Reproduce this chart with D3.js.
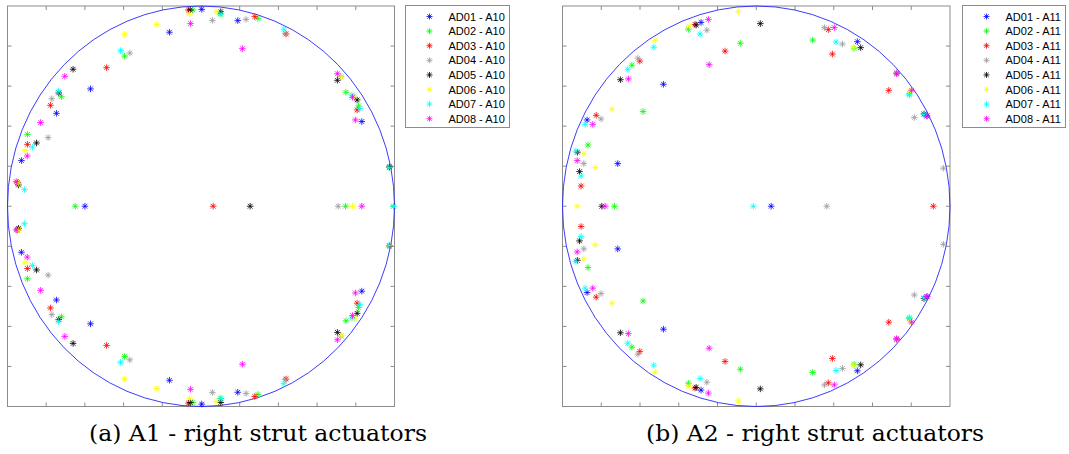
<!DOCTYPE html>
<html>
<head>
<meta charset="utf-8">
<script src="https://cdn.jsdelivr.net/npm/d3@7"></script>
<style>
  body { margin: 0; background: #fff; }
  svg { display: block; }
</style>
</head>
<body>
<div id="chart"></div>
<script>
// series names + colours (same for both panels)
const seriesNames = ['AD01', 'AD02', 'AD03', 'AD04', 'AD05', 'AD06', 'AD07', 'AD08'];
const seriesColors = ['#0000ff', '#00ff00', '#ff0000', '#9a9a9a', '#000000', '#ffff00', '#00ffff', '#ff00ff'];
const tickValues = [-1, -0.8, -0.6, -0.4, -0.2, 0, 0.2, 0.4, 0.6, 0.8, 1];
const captions = ['(a) A1 - right strut actuators', '(b) A2 - right strut actuators'];
const legendSuffix = ['A10', 'A11'];

// panel (a) points, [x, y]
const a1AD01 = [[0.004,0.983],[0.190,0.927],[-0.163,0.869],[-0.571,0.586],[-0.747,0.464],[-0.928,0.228],[0.831,0.423],[-0.600,0],
  [0.004,-0.988],[0.190,-0.929],[-0.163,-0.869],[-0.571,-0.587],[-0.747,-0.468],[-0.928,-0.230],[0.831,-0.424]];
const a1AD02 = [[-0.042,0.980],[0.099,0.960],[0.294,0.938],[-0.395,0.750],[-0.721,0.547],[-0.897,0.359],[0.749,0.569],[0.814,0.501],[0.974,0.196],[-0.650,0],[0.747,0],[0.995,0],
  [-0.042,-0.980],[0.099,-0.960],[0.294,-0.940],[-0.395,-0.750],[-0.721,-0.552],[-0.897,-0.362],[0.749,-0.572],[0.814,-0.505],[0.974,-0.198]];
const a1AD03 = [[-0.065,0.980],[0.278,0.947],[0.440,0.860],[-0.488,0.692],[-0.778,0.504],[-0.897,0.309],[-0.948,0.118],[0.807,0.481],[0.063,0],
  [-0.065,-0.983],[0.278,-0.950],[0.440,-0.863],[-0.488,-0.695],[-0.778,-0.508],[-0.897,-0.311],[-0.948,-0.118],[0.807,-0.484],[0.974,-0.198]];
const a1AD04 = [[0.059,0.928],[0.233,0.933],[0.435,0.864],[-0.368,0.765],[-0.771,0.537],[-0.790,0.343],[0.723,0.647],[0.709,0],
  [0.059,-0.930],[0.233,-0.935],[0.435,-0.865],[-0.368,-0.767],[-0.771,-0.541],[-0.790,-0.344],[0.723,-0.648]];
const a1AD05 = [[-0.056,0.980],[0.102,0.972],[-0.661,0.684],[-0.735,0.566],[-0.850,0.316],[-0.943,0.106],[0.705,0.629],[0.807,0.531],[0.974,0.196],[0.254,0],
  [-0.056,-0.980],[0.102,-0.980],[-0.661,-0.685],[-0.735,-0.566],[-0.850,-0.318],[-0.943,-0.110],[0.705,-0.630],[0.807,-0.535]];
const a1AD06 = [[-0.059,0.960],[0.078,0.972],[-0.228,0.908],[-0.395,0.859],[-0.909,0.278],[-0.943,0.115],[0.726,0.644],[0.792,0.552],[0.783,0],
  [-0.059,-0.960],[0.078,-0.975],[-0.228,-0.910],[-0.395,-0.862],[-0.909,-0.281],[-0.943,-0.120],[0.726,-0.645],[0.792,-0.560]];
const a1AD07 = [[0.104,0.960],[0.428,0.884],[-0.416,0.777],[-0.736,0.576],[-0.871,0.295],[-0.912,0.083],[0.821,0.488],[0.780,0.556],[0.971,0.193],[0.995,0],
  [0.104,-0.960],[0.428,-0.886],[-0.416,-0.779],[-0.736,-0.577],[-0.871,-0.296],[-0.912,-0.087],[0.821,-0.491],[0.780,-0.559],[0.971,-0.196]];
const a1AD08 = [[-0.054,0.912],[0.214,0.787],[-0.704,0.649],[-0.829,0.418],[-0.898,0.251],[-0.955,0.123],[0.705,0.662],[0.783,0.544],[0.798,0.431],[0.831,0],
  [-0.054,-0.914],[0.214,-0.789],[-0.704,-0.650],[-0.829,-0.420],[-0.898,-0.254],[-0.955,-0.118],[0.705,-0.667],[0.783,-0.546],[0.798,-0.433]];

// panel (b) points
const a2AD01 = [[-0.285,0.918],[0.522,0.822],[-0.479,0.609],[-0.873,0.431],[-0.715,0.213],[0.881,0.451],[0.077,0],
  [-0.285,-0.918],[0.522,-0.822],[-0.479,-0.614],[-0.873,-0.431],[-0.715,-0.213],[0.881,-0.451]];
const a2AD02 = [[-0.350,0.884],[-0.082,0.814],[0.291,0.830],[0.505,0.789],[-0.642,0.704],[-0.584,0.473],[-0.868,0.306],[0.790,0.561],[-0.732,0],
  [-0.350,-0.884],[-0.082,-0.814],[0.291,-0.830],[0.505,-0.789],[-0.642,-0.704],[-0.584,-0.473],[-0.868,-0.306],[0.790,-0.561]];
const a2AD03 = [[-0.316,0.908],[-0.161,0.775],[0.372,0.882],[0.393,0.760],[-0.601,0.725],[-0.826,0.454],[-0.904,0.101],[0.725,0.664],[0.684,0.579],[0.914,0],
  [-0.316,-0.908],[-0.161,-0.775],[0.372,-0.882],[0.393,-0.760],[-0.601,-0.725],[-0.826,-0.454],[-0.904,-0.101],[0.725,-0.664],[0.684,-0.579]];
const a2AD04 = [[-0.255,0.879],[0.352,0.892],[0.445,0.810],[-0.611,0.739],[-0.801,0.436],[-0.890,0.213],[0.816,0.443],[0.966,0.190],[0.725,0.667],[0.364,0],
  [-0.255,-0.879],[0.352,-0.892],[0.445,-0.810],[-0.611,-0.739],[-0.801,-0.436],[-0.890,-0.213],[0.816,-0.443],[0.966,-0.190],[0.725,-0.667]];
const a2AD05 = [[0.021,0.912],[-0.310,0.905],[0.539,0.792],[-0.701,0.632],[-0.923,0.270],[-0.912,0.173],[0.866,0.461],[-0.797,0],
  [0.021,-0.912],[-0.310,-0.905],[0.539,-0.792],[-0.701,-0.632],[-0.923,-0.270],[-0.912,-0.173],[0.866,-0.461]];
const a2AD06 = [[-0.092,0.972],[-0.347,0.900],[-0.522,0.829],[0.501,0.794],[-0.744,0.484],[-0.890,0.263],[-0.831,0.193],[0.794,0.577],[-0.924,0],
  [-0.092,-0.972],[-0.347,-0.900],[-0.522,-0.829],[0.501,-0.794],[-0.744,-0.484],[-0.890,-0.263],[-0.831,-0.193],[0.794,-0.577]];
const a2AD07 = [[-0.290,0.860],[-0.529,0.794],[0.412,0.820],[-0.663,0.684],[-0.883,0.409],[-0.931,0.276],[-0.904,0.151],[0.790,0.556],[0.866,0.458],[-0.015,0],
  [-0.290,-0.860],[-0.529,-0.794],[0.412,-0.820],[-0.663,-0.684],[-0.883,-0.409],[-0.931,-0.276],[-0.904,-0.151],[0.790,-0.556],[0.866,-0.458]];
const a2AD08 = [[-0.247,0.933],[0.403,0.892],[-0.243,0.707],[-0.660,0.636],[-0.844,0.409],[-0.924,0.228],[0.802,0.579],[0.881,0.451],[0.725,0.661],[-0.780,0],
  [-0.247,-0.933],[0.403,-0.892],[-0.243,-0.709],[-0.660,-0.636],[-0.844,-0.409],[-0.924,-0.228],[0.802,-0.579],[0.881,-0.451],[0.725,-0.661]];

const panelA = [a1AD01, a1AD02, a1AD03, a1AD04, a1AD05, a1AD06, a1AD07, a1AD08];
const panelB = [a2AD01, a2AD02, a2AD03, a2AD04, a2AD05, a2AD06, a2AD07, a2AD08];

const width = 1069;
const height = 454;
const boxColour = '#8c8c8c';

const svg = d3.select('#chart')
    .append('svg')
        .attr('width', width)
        .attr('height', height);

// asterisk marker (plus + cross)
function asterisk(r) {
    const d = r * 0.72;
    return `M${-r},0H${r}M0,${-r}V${r}M${-d},${-d}L${d},${d}M${-d},${d}L${d},${-d}`;
}

function drawPanel(series, box, legend, suffix, caption) {

    const x = d3.scaleLinear().domain([-1, 1]).range([box.left, box.right]);
    const y = d3.scaleLinear().domain([-1, 1]).range([box.bottom, box.top]);
    const tl = 4;

    const g = svg.append('g');

    // axes box with inward ticks on all sides
    const ax = g.append('g')
        .attr('stroke', boxColour)
        .attr('stroke-width', 1)
        .attr('fill', 'none');
    ax.append('rect')
        .attr('x', x(-1)).attr('y', y(1))
        .attr('width', x(1) - x(-1))
        .attr('height', y(-1) - y(1));
    ax.selectAll('.tb')
        .data(tickValues.slice(1, -1))
        .join('path')
            .attr('d', d => `M${x(d)},${y(-1)}v${-tl}M${x(d)},${y(1)}v${tl}`);
    ax.selectAll('.lr')
        .data(tickValues.slice(1, -1))
        .join('path')
            .attr('class', 'lr')
            .attr('d', d => `M${x(-1)},${y(d)}h${tl}M${x(1)},${y(d)}h${-tl}`);

    // unit circle
    g.append('ellipse')
        .attr('cx', x(0))
        .attr('cy', y(0))
        .attr('rx', x(1) - x(0))
        .attr('ry', y(-1) - y(0))
        .attr('fill', 'none')
        .attr('stroke', '#2626ff')
        .attr('stroke-width', 0.9);

    // points
    series.forEach((pts, i) => {
        g.append('g')
            .attr('stroke', seriesColors[i])
            .attr('stroke-width', 0.8)
            .attr('fill', 'none')
            .selectAll('path')
            .data(pts)
            .join('path')
                .attr('transform', d => `translate(${x(d[0])},${y(d[1])})`)
                .attr('d', asterisk(3.3));
    });

    // legend
    const lg = g.append('g');
    lg.append('rect')
        .attr('x', legend.x).attr('y', legend.y)
        .attr('width', legend.w).attr('height', legend.h)
        .attr('fill', '#fff')
        .attr('stroke', boxColour)
        .attr('stroke-width', 1);
    const row = lg.selectAll('.row')
        .data(seriesNames)
        .join('g')
            .attr('transform', (d, i) => `translate(${legend.x}, ${legend.y + 11 + i * 14.6})`);
    row.append('path')
        .attr('transform', 'translate(24,0)')
        .attr('d', asterisk(3))
        .attr('fill', 'none')
        .attr('stroke', (d, i) => seriesColors[i])
        .attr('stroke-width', 0.8);
    row.append('text')
        .attr('x', 43)
        .attr('y', 4)
        .attr('font-family', 'Liberation Sans, Arial, sans-serif')
        .attr('font-size', 11)
        .attr('fill', '#000')
        .text(d => `${d} - ${suffix}`);

    // caption
    g.append('text')
        .attr('x', caption.x)
        .attr('y', 441)
        .attr('font-family', 'DejaVu Serif, serif')
        .attr('font-size', 23)
        .attr('textLength', caption.w)
        .attr('lengthAdjust', 'spacingAndGlyphs')
        .attr('fill', '#000')
        .text(caption.text);
}

drawPanel(panelA,
    {left: 7.5, right: 394.5, top: 6, bottom: 406.5},
    {x: 405.5, y: 5.5, w: 104, h: 122},
    legendSuffix[0],
    {x: 89, w: 338, text: captions[0]});

drawPanel(panelB,
    {left: 562.5, right: 950, top: 6, bottom: 406.5},
    {x: 962.5, y: 5.5, w: 103, h: 122},
    legendSuffix[1],
    {x: 646, w: 338, text: captions[1]});
</script>
</body>
</html>
